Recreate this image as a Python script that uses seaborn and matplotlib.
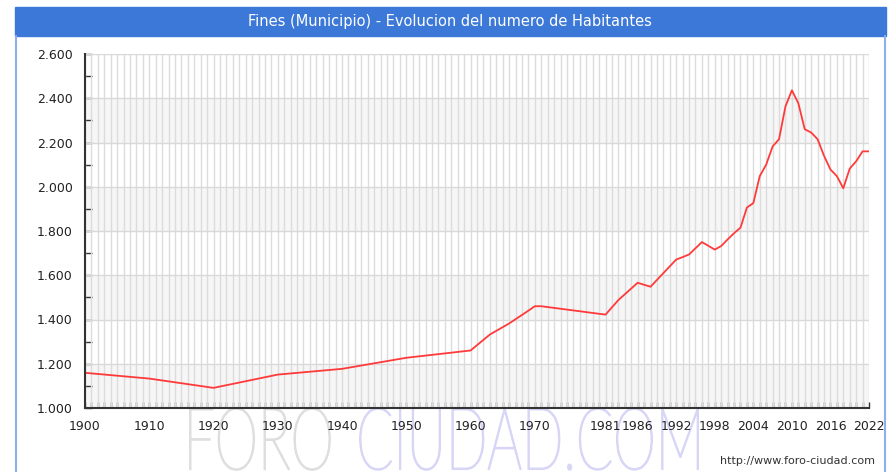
import matplotlib
matplotlib.use("Agg")
import matplotlib.pyplot as plt
import matplotlib.transforms as mtrans
from matplotlib.patches import Rectangle, PathPatch
from matplotlib.lines import Line2D
from matplotlib.textpath import TextPath
from matplotlib.font_manager import FontProperties
from matplotlib.ticker import MultipleLocator, FuncFormatter
import pandas as pd
import seaborn as sns

sns.set_theme(style="white")
plt.rcParams["font.family"] = ["DejaVu Sans"]

# Datos
years = [1900, 1910, 1920, 1930, 1940, 1950, 1960, 1963, 1966, 1969, 1970,
         1971, 1981, 1983, 1985, 1986, 1988, 1992, 1993, 1994, 1996, 1998,
         1999, 2000, 2001, 2002, 2003, 2004, 2005, 2006, 2007, 2008, 2009,
         2010, 2011, 2012, 2013, 2014, 2015, 2016, 2017, 2018, 2019, 2020,
         2021, 2022]
habitantes = [1159, 1133, 1091, 1151, 1177, 1227, 1260, 1332, 1382, 1440, 1460,
              1460, 1422, 1488, 1540, 1566, 1548, 1671, 1682, 1694, 1750, 1716,
              1732, 1762, 1790, 1815, 1906, 1926, 2048, 2100, 2182, 2215, 2363,
              2436, 2378, 2260, 2245, 2215, 2140, 2078, 2048, 1993, 2082, 2115,
              2160, 2160]
year_labels = [1900, 1910, 1920, 1930, 1940, 1950, 1960, 1970, 1981, 1986,
               1992, 1998, 2004, 2010, 2016, 2022]
y_ticks = [1000, 1200, 1400, 1600, 1800, 2000, 2200, 2400, 2600]

titulo = "Fines (Municipio) - Evolucion del numero de Habitantes"
url = "http://www.foro-ciudad.com"

df = pd.DataFrame({"anio": years, "hab": habitantes})

W, H = 890, 472
fig = plt.figure(figsize=(W / 100, H / 100), dpi=100)
fig.patch.set_facecolor("white")

# Barra de titulo y marco
fig.patches.append(Rectangle((15 / W, (H - 36) / H), 871 / W, 29 / H,
                             transform=fig.transFigure, color="#3b78d7", zorder=0))
for xp in (16, 885):
    fig.lines.append(Line2D([xp / W, xp / W], [0, (H - 36) / H],
                            transform=fig.transFigure, color="#8db0ea", lw=1.5))
fig.text(450 / W, (H - 21.5) / H, titulo, ha="center", va="center",
         color="white", fontsize=10.5)


# Marca de agua (texto estirado a la caja en pixeles de imagen)
def watermark(text, x0, x1, y_top, y_bot, color):
    fp = FontProperties(family="Lato", weight="light")
    path = TextPath((0, 0), text, size=100, prop=fp)
    ext = path.get_extents()
    sx = (x1 - x0) / ext.width
    sy = (y_bot - y_top) / ext.height
    tr = (mtrans.Affine2D().translate(-ext.x0, -ext.y0).scale(sx, sy)
          .translate(x0, H - y_bot).scale(1 / W, 1 / H) + fig.transFigure)
    fig.patches.append(PathPatch(path, transform=tr, facecolor=color,
                                 edgecolor=color, lw=1.2, zorder=-1))


watermark("FORO", 190, 330, 408, 470, "#dedede")
watermark("CIUDAD.COM", 360, 698, 408, 470, "#d8d6f7")

ax = fig.add_axes([85 / W, (H - 408) / H, (869 - 85) / W, (408 - 54) / H])
ax.set_facecolor("white")

# Bandas alternas y rejilla
for i, lo in enumerate(y_ticks[:-1]):
    if i % 2 == 0:
        ax.axhspan(lo, lo + 200, color="#f6f6f6", zorder=0, lw=0)
for yr in range(1900, 2023):
    ax.axvline(yr, color="#dcdcdc", lw=1, zorder=1)
for v in y_ticks:
    ax.axhline(v, color="#d9d9d9", lw=1, zorder=1)

sns.lineplot(data=df, x="anio", y="hab", ax=ax, color="#ff3a3a", lw=1.3, zorder=3)

ax.set_xlim(1900, 2022)
ax.set_ylim(1000, 2600)
ax.set_xlabel("")
ax.set_ylabel("")

ax.set_xticks(year_labels)
ax.xaxis.set_minor_locator(MultipleLocator(1))
ax.set_yticks(y_ticks)
ax.yaxis.set_minor_locator(MultipleLocator(100))
ax.yaxis.set_major_formatter(FuncFormatter(lambda v, p: f"{v:,.0f}".replace(",", ".")))

ax.tick_params(axis="x", which="both", direction="in", length=4.5, width=1,
               color="#333333", labelsize=9, labelcolor="#222222", pad=9)
ax.tick_params(axis="y", which="both", direction="in", length=5, width=1,
               color="#333333", labelsize=9, labelcolor="#222222", pad=9)
ax.tick_params(bottom=True, left=True, which="both")

for s in ("top", "right"):
    ax.spines[s].set_visible(False)
for s in ("left", "bottom"):
    ax.spines[s].set_color("#333333")
    ax.spines[s].set_linewidth(1.5)
    ax.spines[s].set_zorder(4)

fig.text(875 / W, (H - 461) / H, url, ha="right", va="center",
         color="#333333", fontsize=8)

fig.savefig("out.png", dpi=100)
